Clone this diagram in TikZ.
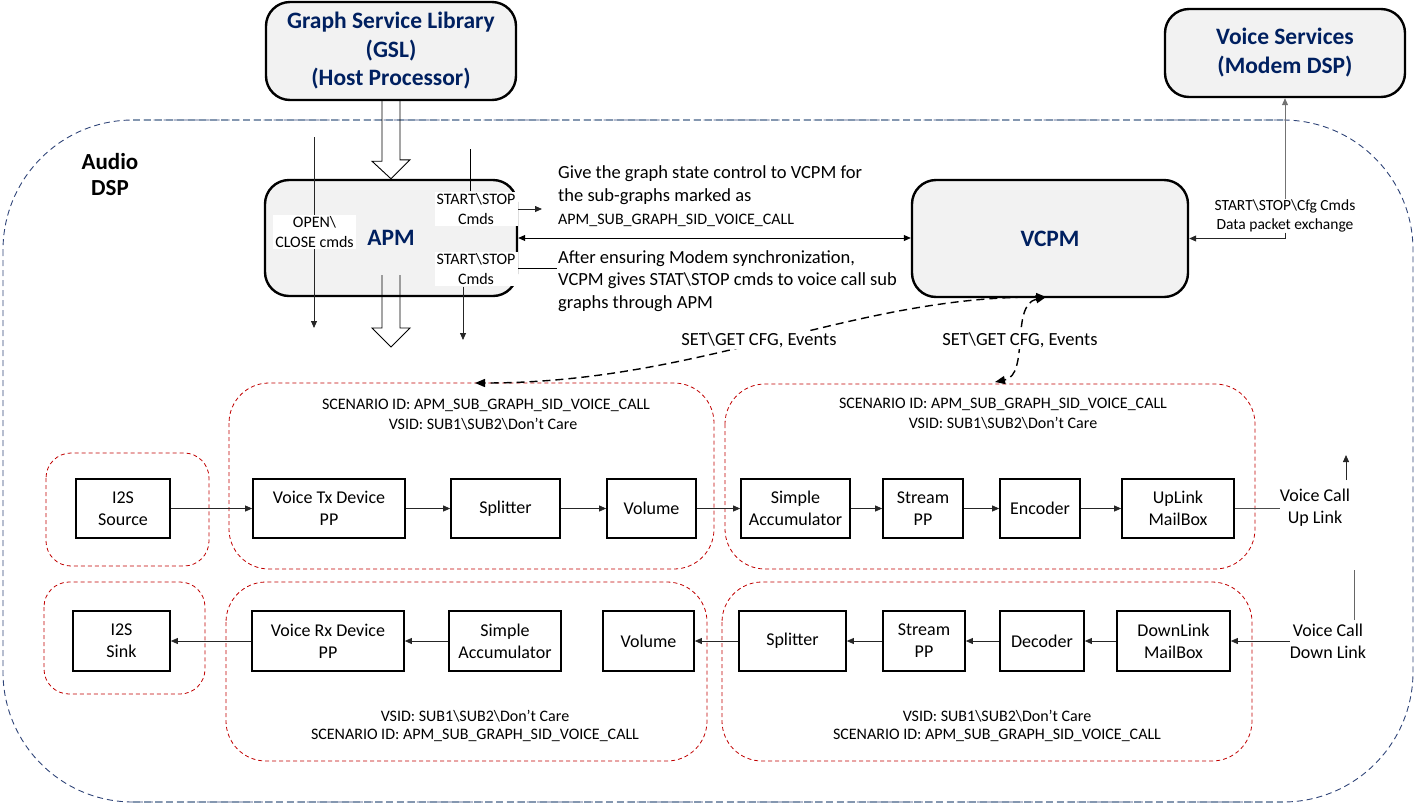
\documentclass[tikz,border=0pt]{standalone}
\usepackage{fontspec}
\setmainfont{Carlito}
\usetikzlibrary{arrows.meta,calc}
\definecolor{navy}{RGB}{0,32,96}
\definecolor{dspblue}{RGB}{47,68,120}
\definecolor{dspgray}{RGB}{132,151,176}
\definecolor{redd}{RGB}{192,0,0}
\definecolor{boxgray}{RGB}{242,242,242}
\newcommand{\bsl}{\textbackslash}
\newcommand{\fs}[2]{\fontsize{#1}{#2}\selectfont}
\begin{document}
\begin{tikzpicture}[x=1pt,y=-1pt,
  bigbox/.style={draw, line width=2.4pt, fill=boxgray, rounded corners=24pt, text=navy, font=\bfseries\fs{23.5}{28.5}, align=center, inner sep=0pt},
  mod/.style={draw, line width=1.7pt, fill=white, font=\fs{18}{22}, align=center, inner sep=0pt},
  redbox/.style={draw=redd, line width=0.8pt, dash pattern=on 4pt off 3pt, rounded corners=40pt},
  dspline/.style={draw=dspblue, line width=0.9pt, dash pattern=on 6pt off 4pt, rounded corners=130pt},
  dspedge/.style={draw=dspgray, line width=1.6pt, dash pattern=on 7pt off 4pt},
  arr/.style={-{Triangle[length=7pt,width=6pt]}, line width=0.8pt, draw=black!85},
  darr/.style={{Triangle[length=7pt,width=6pt]}-{Triangle[length=7pt,width=6pt]}, line width=0.8pt},
  lbl/.style={font=\fs{16}{19.5}, align=center, inner sep=0pt},
  wlbl/.style={lbl, fill=white, inner sep=2pt},
  para/.style={font=\fs{18.5}{22.5}, align=left, inner sep=0pt, anchor=west},
  dsh/.style={dash pattern=on 8pt off 5pt, line width=1.4pt, {Triangle[length=10pt,width=8pt]}-{Triangle[length=10pt,width=8pt]}},
  hollow/.style={line width=0.9pt, draw=black}
]
\useasboundingbox (0,0) rectangle (1417,804);

% Audio DSP container
\draw[dspline] (3,120) rectangle (1413,802);
\coordinate (dtl) at (133,120);
\coordinate (dtr) at (1283,120);
\coordinate (dbl) at (133,802);
\coordinate (dbr) at (1283,802);
\draw[dspedge] (dtl) -- (dtr);
\draw[dspedge] (dbl) -- (dbr);
\node[font=\bfseries\fs{23}{26}, align=center, inner sep=0pt] (dsp) at (110,175) {Audio\\DSP};

% red dashed sub-graph containers
\draw[redbox] (229,383) rectangle (714,569);
\draw[redbox] (725,384) rectangle (1255,569);
\draw[redbox, rounded corners=25pt] (46,453) rectangle (209,566);
\draw[redbox, rounded corners=25pt] (44,582) rectangle (205,694);
\draw[redbox] (226,582) rectangle (707,761);
\draw[redbox] (722,582) rectangle (1252,761);

\node[lbl] (t1s) at (486,405) {SCENARIO ID: APM\_SUB\_GRAPH\_SID\_VOICE\_CALL};
\node[lbl] (t1v) at (483,424) {VSID: SUB1\bsl SUB2\bsl Don’t Care};
\node[lbl] (t2s) at (1003,404) {SCENARIO ID: APM\_SUB\_GRAPH\_SID\_VOICE\_CALL};
\node[lbl] (t2v) at (1003,423) {VSID: SUB1\bsl SUB2\bsl Don’t Care};
\node[lbl] (r1v) at (475,716) {VSID: SUB1\bsl SUB2\bsl Don’t Care};
\node[lbl] (r1s) at (475,735) {SCENARIO ID: APM\_SUB\_GRAPH\_SID\_VOICE\_CALL};
\node[lbl] (r2v) at (997,716) {VSID: SUB1\bsl SUB2\bsl Don’t Care};
\node[lbl] (r2s) at (997,735) {SCENARIO ID: APM\_SUB\_GRAPH\_SID\_VOICE\_CALL};

% big boxes
\node[bigbox, minimum width=250pt, minimum height=98pt] (gsl) at (391,51) {Graph Service Library\\(GSL)\\(Host Processor)};
\node[bigbox, minimum width=240pt, minimum height=88pt, font=\bfseries\fs{23.5}{29}] (vs) at (1285,53) {Voice Services\\(Modem DSP)};
\node[bigbox, minimum width=252pt, minimum height=116pt] (apm) at (391,238) {APM};
\node[bigbox, minimum width=276pt, minimum height=117pt] (vcpm) at (1050,238.5) {VCPM};

% hollow arrows GSL -> APM -> below
\draw[hollow] ([xshift=-9pt]gsl.south) -- ++(0,60) -- ++(-10,0) -- (apm.north) -- ++(19,-19) -- ++(-10,0) -- ([xshift=9pt]gsl.south);
\coordinate (hb) at (391,275);
\draw[hollow] ([xshift=-9pt]hb) -- ++(0,53) -- ++(-10,0) -- ++(19,19) -- ++(19,-19) -- ++(-10,0) -- ++(0,-53);

% OPEN/CLOSE
\coordinate (oc1) at (314,137);
\coordinate (oc2) at (314,328);
\draw[arr] (oc1) -- (oc2);
\node[wlbl] (oc) at (314.5,232) {OPEN\bsl\\CLOSE cmds};

% START/STOP labels
\node[wlbl, minimum width=82pt] (ss1) at (476,209) {START\bsl STOP\\Cmds};
\node[wlbl, minimum width=82pt] (ss2) at (476,269) {START\bsl STOP\\Cmds};
\coordinate (ss1t) at (470,149);
\draw[line width=0.8pt] (ss1t) -- (ss1t |- ss1.north);
\coordinate (ss2b) at (463,340);
\draw[arr] (ss2b |- ss2.south) -- (ss2b);
\coordinate (a1e) at (542,209);
\draw[arr] (apm.east |- a1e) -- (a1e);
\coordinate (a2e) at (557,268);
\draw[line width=0.8pt] (apm.east |- a2e) -- (a2e);
\draw[darr] (apm.east) -- (vcpm.west |- apm.east);

% paragraphs
\node[para] (give) at (558,185) {Give the graph state control to VCPM for\\the sub-graphs marked as};
\node[lbl, anchor=west] (givesid) at (558,220) {APM\_SUB\_GRAPH\_SID\_VOICE\_CALL};
\node[para] (after) at (558,281) {After ensuring Modem synchronization,\\VCPM gives STAT\bsl STOP cmds to voice call sub\\graphs through APM};

% Voice services link
\node[lbl, font=\fs{15.5}{19.5}] (cfg) at (1285,216) {START\bsl STOP\bsl Cfg Cmds\\Data packet exchange};
\draw[arr, draw=black!55] (cfg.north) -- (vs.south);
\draw[arr] (cfg.south) |- (vcpm.east);

% dashed SET/GET curves
\coordinate (vb) at (1046,297);
\coordinate (tl) at (475,383);
\coordinate (tr) at (995,382);
\draw[dsh] (vb) .. controls (850,297) and (700,383) .. (tl);
\draw[dsh] (vb) .. controls (1010,305) and (1030,375) .. (tr);
\node[fill=white, inner sep=1pt, font=\fs{18.5}{22}] (sg1) at (759,340) {SET\bsl GET CFG, Events};
\node[fill=white, inner sep=1pt, font=\fs{18.5}{22}] (sg2) at (1020,340) {SET\bsl GET CFG, Events};

% TX row
\node[mod, minimum width=94pt, minimum height=59pt] (src) at (123,508.5) {I2S\\Source};
\node[mod, minimum width=152pt, minimum height=59pt] (vtx) at (329,508.5) {Voice Tx Device\\PP};
\node[mod, minimum width=109pt, minimum height=59pt] (spl1) at (505.5,508.5) {Splitter};
\node[mod, minimum width=89pt, minimum height=59pt] (vol1) at (651.5,508.5) {Volume};
\node[mod, minimum width=109pt, minimum height=59pt] (acc1) at (795.5,508.5) {Simple\\Accumulator};
\node[mod, minimum width=80pt, minimum height=59pt] (spp1) at (923,508.5) {Stream\\PP};
\node[mod, minimum width=80pt, minimum height=59pt] (enc) at (1040,508.5) {Encoder};
\node[mod, minimum width=112pt, minimum height=59pt] (ul) at (1178,508.5) {UpLink\\MailBox};
\node[inner sep=0pt, font=\fs{18}{22}, align=center] (upl) at (1315,508) {Voice Call\\Up Link};

\draw[arr] (src) -- (vtx);
\draw[arr] (vtx) -- (spl1);
\draw[arr] (spl1) -- (vol1);
\draw[arr] (vol1) -- (acc1);
\draw[arr] (acc1) -- (spp1);
\draw[arr] (spp1) -- (enc);
\draw[arr] (enc) -- (ul);
\draw[line width=0.8pt, draw=black!70] (ul.east) -- (upl.west |- ul.east);
\coordinate (ua1) at (1346,480);
\coordinate (ua2) at (1346,455);
\draw[arr] (ua1) -- (ua2);

% RX row
\node[mod, minimum width=97pt, minimum height=60pt] (sink) at (121.5,641) {I2S\\Sink};
\node[mod, minimum width=152pt, minimum height=60pt] (vrx) at (328,641) {Voice Rx Device\\PP};
\node[mod, minimum width=112pt, minimum height=60pt] (acc2) at (505,641) {Simple\\Accumulator};
\node[mod, minimum width=91pt, minimum height=60pt] (vol2) at (648.5,641) {Volume};
\node[mod, minimum width=107pt, minimum height=60pt] (spl2) at (792.5,641) {Splitter};
\node[mod, minimum width=82pt, minimum height=60pt] (spp2) at (924,641) {Stream\\PP};
\node[mod, minimum width=84pt, minimum height=60pt] (dec) at (1042,641) {Decoder};
\node[mod, minimum width=113pt, minimum height=60pt] (dl) at (1173.5,641) {DownLink\\MailBox};
\node[inner sep=0pt, font=\fs{18}{22}, align=center] (dlt) at (1328,641) {Voice Call\\Down Link};

\draw[arr] (dlt.west |- dl.east) -- (dl.east);
\draw[arr] (dl) -- (dec);
\draw[arr] (dec) -- (spp2);
\draw[arr] (spp2) -- (spl2);
\draw[arr] (spl2) -- (vol2);
\draw[arr] (acc2) -- (vrx);
\draw[arr] (vrx) -- (sink);
\coordinate (dv1) at (1354,570);
\coordinate (dv2) at (1354,620);
\draw[line width=0.8pt, draw=black!60] (dv1) -- (dv2);
\end{tikzpicture}
\end{document}
